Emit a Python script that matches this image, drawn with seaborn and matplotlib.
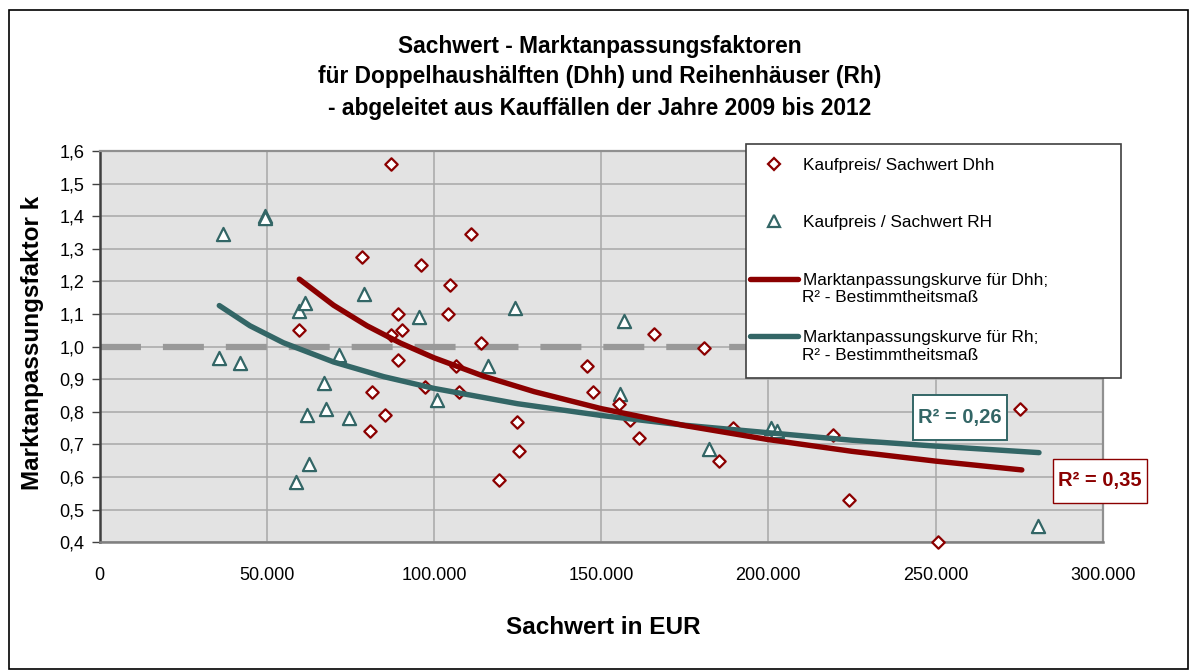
import numpy as np
import pandas as pd
import matplotlib
matplotlib.use("Agg")
import matplotlib.pyplot as plt
from matplotlib import font_manager
from matplotlib.lines import Line2D
from matplotlib.patches import Rectangle
from matplotlib.ticker import FixedLocator, FixedFormatter
import seaborn as sns

# Kauffälle Doppelhaushälften (Dhh): Sachwert in EUR und Faktor Kaufpreis/Sachwert
dhh_sachwert = [59660, 78500, 80890, 81400, 85380, 87170, 87170, 89350, 89350, 90550,
                96230, 97340, 104220, 104900, 106520, 107600, 111080, 114000, 119550,
                124760, 125300, 145780, 147490, 155440, 158640, 161330, 165820, 180650,
                185250, 189530, 219430, 224130, 250830, 275270]
dhh_faktor = [1.05, 1.275, 0.74, 0.86, 0.79, 1.56, 1.035, 1.10, 0.96, 1.05,
              1.25, 0.875, 1.10, 1.19, 0.94, 0.86, 1.345, 1.01, 0.59,
              0.77, 0.68, 0.94, 0.86, 0.825, 0.775, 0.72, 1.04, 0.995,
              0.65, 0.75, 0.73, 0.53, 0.40, 0.81]

# Kauffälle Reihenhäuser (Rh)
rh_sachwert = [35820, 36840, 42010, 49490, 49600, 58670, 59660, 61450, 62050, 62560,
               67220, 67730, 71710, 74520, 79100, 95630, 100840, 116180, 124250,
               155650, 156850, 182360, 200720, 202510, 280560]
rh_faktor = [0.965, 1.345, 0.95, 1.40, 1.393, 0.585, 1.11, 1.135, 0.79, 0.64,
             0.89, 0.81, 0.975, 0.78, 1.16, 1.09, 0.835, 0.94, 1.12,
             0.855, 1.08, 0.685, 0.75, 0.74, 0.45]

# Marktanpassungskurven (Potenz-Trendlinien), Stützstellen
kurve_dhh_sachwert = [59750, 70000, 80000, 90000, 100000, 115000, 130000, 150000,
                      175000, 200000, 225000, 250000, 275810]
kurve_dhh_faktor = [1.207, 1.127, 1.064, 1.011, 0.966, 0.909, 0.862, 0.810,
                    0.758, 0.715, 0.679, 0.649, 0.622]
kurve_rh_sachwert = [35820, 45000, 55000, 70000, 85000, 100000, 125000, 150000,
                     175000, 200000, 225000, 250000, 280950]
kurve_rh_faktor = [1.126, 1.064, 1.012, 0.953, 0.908, 0.872, 0.825, 0.789,
                   0.759, 0.736, 0.713, 0.695, 0.675]

r2_dhh = "R² = 0,35"
r2_rh = "R² = 0,26"

x_ticks = [0, 50000, 100000, 150000, 200000, 250000, 300000]
x_tick_labels = ["0", "50.000", "100.000", "150.000", "200.000", "250.000", "300.000"]
y_ticks = [0.4, 0.5, 0.6, 0.7, 0.8, 0.9, 1.0, 1.1, 1.2, 1.3, 1.4, 1.5, 1.6]
y_tick_labels = ["0,4", "0,5", "0,6", "0,7", "0,8", "0,9", "1,0", "1,1", "1,2",
                 "1,3", "1,4", "1,5", "1,6"]

titel = ["Sachwert - Marktanpassungsfaktoren",
         "für Doppelhaushälften (Dhh) und Reihenhäuser (Rh)",
         "- abgeleitet aus Kauffällen der Jahre 2009 bis 2012"]
x_titel = "Sachwert in EUR"
y_titel = "Marktanpassungsfaktor k"
legende = ["Kaufpreis/ Sachwert Dhh", "Kaufpreis / Sachwert RH",
           "Marktanpassungskurve für Dhh;", "Marktanpassungskurve für Rh;"]
legende_zusatz = "R² - Bestimmtheitsmaß"

ROT = "#8B0000"
PETROL = "#336666"

sns.set_theme(style="white")
plt.rcParams["font.family"] = ["Liberation Sans", "DejaVu Sans"]
plt.rcParams["text.color"] = "black"
plt.rcParams["lines.scale_dashes"] = False

installiert = {f.name for f in font_manager.fontManager.ttflist}
if "Liberation Sans Narrow" in installiert:
    schmal = ["Liberation Sans Narrow", "Liberation Sans"]
    titel_groesse, xlabel_groesse = 19.5, 20
else:
    schmal = ["Liberation Sans", "DejaVu Sans"]
    titel_groesse, xlabel_groesse = 16.4, 17.5

W, H = 1198, 671
fig = plt.figure(figsize=(W / 100, H / 100), dpi=100)
fig.patch.set_facecolor("white")
ax = fig.add_axes([99.5 / W, 1 - 542.3 / H, (1102.7 - 99.5) / W, (542.3 - 151) / H])
ax.set_facecolor("#E3E3E3")

dhh = pd.DataFrame({"Sachwert": dhh_sachwert, "Faktor": dhh_faktor})
rh = pd.DataFrame({"Sachwert": rh_sachwert, "Faktor": rh_faktor})
k_dhh = pd.DataFrame({"Sachwert": kurve_dhh_sachwert, "Faktor": kurve_dhh_faktor})
k_rh = pd.DataFrame({"Sachwert": kurve_rh_sachwert, "Faktor": kurve_rh_faktor})

# Referenzlinie k = 1,0
ax.axhline(1.0, color="#999999", lw=4.5, dashes=(29.5, 15.8), zorder=1.5,
           solid_capstyle="butt")

sns.scatterplot(data=rh, x="Sachwert", y="Faktor", ax=ax, marker="^", s=90,
                color="white", edgecolor=PETROL, linewidth=1.6, zorder=3,
                clip_on=False, legend=False)
sns.scatterplot(data=dhh, x="Sachwert", y="Faktor", ax=ax, marker="D", s=40,
                color="white", edgecolor=ROT, linewidth=1.6, zorder=3,
                clip_on=False, legend=False)

sns.lineplot(data=k_rh, x="Sachwert", y="Faktor", ax=ax, color=PETROL, lw=3.9,
             estimator=None, sort=True, zorder=4, solid_capstyle="round", legend=False)
sns.lineplot(data=k_dhh, x="Sachwert", y="Faktor", ax=ax, color=ROT, lw=3.9,
             estimator=None, sort=True, zorder=4, solid_capstyle="round", legend=False)

ax.set_xlim(0, 300000)
ax.set_ylim(0.4, 1.6)
ax.xaxis.set_major_locator(FixedLocator(x_ticks))
ax.xaxis.set_major_formatter(FixedFormatter(x_tick_labels))
ax.yaxis.set_major_locator(FixedLocator(y_ticks))
ax.yaxis.set_major_formatter(FixedFormatter(y_tick_labels))
ax.grid(True, color="#A8A8A8", lw=1.1)
ax.set_axisbelow(True)

ax.tick_params(axis="y", which="major", left=True, length=5.8, width=1.0,
               color="#404040", pad=5, labelsize=13, labelcolor="black")
ax.tick_params(axis="x", which="major", bottom=True, length=0, pad=18,
               labelsize=13, labelcolor="black")

for side in ["top", "right"]:
    ax.spines[side].set_color("#909090")
    ax.spines[side].set_linewidth(1.6)
ax.spines["bottom"].set_color("#808080")
ax.spines["bottom"].set_linewidth(1.8)
ax.spines["left"].set_color("#404040")
ax.spines["left"].set_linewidth(1.8)

ax.set_xlabel("")
ax.set_ylabel("")

# Titel und Achsentitel
for i, zeile in enumerate(titel):
    fig.text(600 / W, 1 - (46 + 31 * i) / H, zeile, ha="center", va="center",
             fontsize=titel_groesse, fontweight="bold", family=schmal)
fig.text(603 / W, 1 - 628 / H, x_titel, ha="center", va="center",
         fontsize=xlabel_groesse, fontweight="bold", family=schmal)
fig.text(33 / W, 1 - 343 / H, y_titel, ha="center", va="center", rotation=90,
         fontsize=17.5, fontweight="bold")

# Bestimmtheitsmaße mit Rahmen
for (x0, x1, y0, y1, xm, ym, txt, farbe, rlw) in [
        (243270, 271380, 0.7137, 0.8517, 257320, 0.783, r2_rh, PETROL, 1.4),
        (285150, 313260, 0.5204, 0.6554, 299200, 0.588, r2_dhh, ROT, 1.0)]:
    ax.add_patch(Rectangle((x0, y0), x1 - x0, y1 - y0, fc="white", ec=farbe,
                           lw=rlw, zorder=6, clip_on=False))
    ax.text(xm, ym, txt, ha="center", va="center", fontsize=14.5,
            fontweight="bold", color=farbe, zorder=7, clip_on=False)

# Legende
fig.add_artist(Rectangle((746 / W, 1 - 378 / H), (1121 - 746) / W, (378 - 144) / H,
                         transform=fig.transFigure, fc="white", ec="#404040",
                         lw=1.2, zorder=4))
handles = [
    Line2D([], [], ls="none", marker="D", ms=6, mfc="white", mec=ROT, mew=1.6),
    Line2D([], [], ls="none", marker="^", ms=9.2, mfc="white", mec=PETROL, mew=1.6),
    Line2D([], [], color=ROT, lw=3.9, solid_capstyle="round"),
    Line2D([], [], color=PETROL, lw=3.9, solid_capstyle="round"),
]
leg = fig.legend(handles, legende, loc="upper left",
                 bbox_to_anchor=(750 / W, 1 - 158 / H), bbox_transform=fig.transFigure,
                 frameon=False, fontsize=12.4, handlelength=2.8, handletextpad=0.25,
                 labelspacing=2.45, borderpad=0, borderaxespad=0)
leg.set_zorder(6)
for yp in (298, 355):
    fig.text(802 / W, 1 - yp / H, legende_zusatz, ha="left", va="center",
             fontsize=12.4, zorder=6)

# Rahmen um das Diagramm
fig.add_artist(Rectangle((9 / W, 1 - 669 / H), (1188 - 9) / W, (669 - 10) / H,
                         transform=fig.transFigure, fill=False, ec="black",
                         lw=1.2, zorder=10))

fig.savefig("out.png", dpi=100)
